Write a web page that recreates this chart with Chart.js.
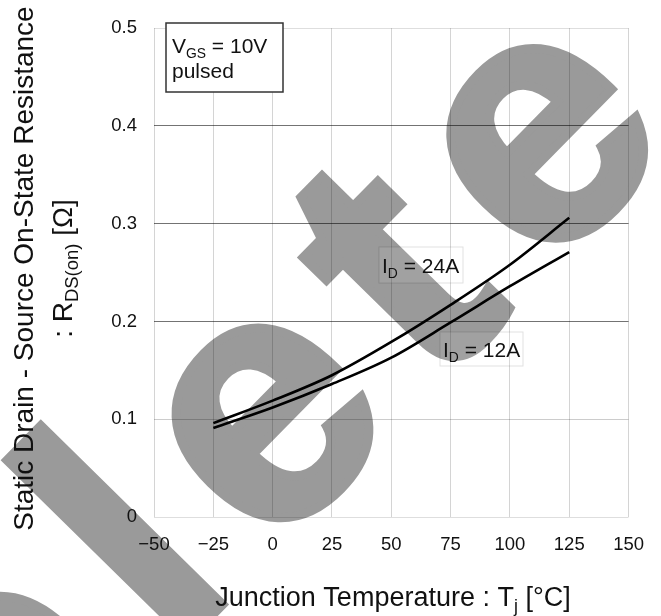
<!DOCTYPE html>
<html>
<head>
<meta charset="utf-8">
<script src="https://cdn.jsdelivr.net/npm/chart.js@4.4.0/dist/chart.umd.min.js"></script>
<style>
  html, body { margin: 0; padding: 0; background: #fff; }
  #wrap { width: 661px; height: 616px; position: relative; }
</style>
</head>
<body>
<div id="wrap"><canvas id="rdsChart"></canvas></div>
<script>
// Junction temperature (deg C) where the curves were read
const temps = [-25, 0, 25, 50, 75, 100, 125];
// R_DS(on) in ohm
const rds24A = [0.096, 0.119, 0.145, 0.179, 0.217, 0.258, 0.306];
const rds12A = [0.091, 0.112, 0.136, 0.163, 0.199, 0.236, 0.271];
const xTicks = [-50, -25, 0, 25, 50, 75, 100, 125, 150];
const yTicks = [0, 0.1, 0.2, 0.3, 0.4, 0.5];

const FONT = '"Liberation Sans", Arial, sans-serif';

function fontStr(size) {
    return size + 'px ' + FONT;
}

// draw text made of [text, isSubscript] pieces
function drawRich(ctx, parts, x, y, size, align) {
    const widths = parts.map(function(p) {
        ctx.font = fontStr(p[1] ? size * 0.66 : size);
        return ctx.measureText(p[0]).width;
    });
    const total = widths.reduce(function(a, b) { return a + b; }, 0);
    let cx = align === 'center' ? x - total / 2 : x;
    ctx.textAlign = 'left';
    ctx.textBaseline = 'alphabetic';
    parts.forEach(function(p, i) {
        ctx.font = fontStr(p[1] ? size * 0.66 : size);
        ctx.fillText(p[0], cx, p[1] ? y + size * 0.22 : y);
        cx += widths[i];
    });
    return total;
}

// big grey "Obsolete" stamp behind the grid
const watermark = {
    id: 'watermark',
    beforeDraw: function(chart) {
        const ctx = chart.ctx;
        const size = 352;
        ctx.save();
        ctx.font = 'bold ' + size + 'px ' + FONT;
        ctx.fillStyle = '#9a9a9a';
        ctx.strokeStyle = '#9a9a9a';
        ctx.lineWidth = 9;
        ctx.lineJoin = 'miter';
        ctx.translate(546, 145);
        ctx.rotate(-45.5 * Math.PI / 180);
        const word = 'Obsolete';
        const wE = ctx.measureText('e').width, wT = ctx.measureText('t').width;
        const gap = (392 - wE - wT) / 2;
        const pos = [];
        let x = 0;
        for (const ch of word) {
            pos.push(x);
            x += ctx.measureText(ch).width + gap;
        }
        const off = -(pos[pos.length - 1] + wE / 2);
        ctx.textBaseline = 'alphabetic';
        for (let i = 0; i < word.length; i++) {
            ctx.fillText(word[i], pos[i] + off, 0.26 * size);
            ctx.strokeText(word[i], pos[i] + off, 0.26 * size);
        }
        ctx.restore();
    }
};

const annotations = {
    id: 'annotations',
    afterDraw: function(chart) {
        const ctx = chart.ctx;
        const ys = chart.scales.y;
        ctx.save();

        // condition box
        ctx.fillStyle = '#fff';
        ctx.fillRect(166, 23, 117, 69);
        ctx.strokeStyle = '#333';
        ctx.lineWidth = 1.5;
        ctx.strokeRect(166, 23, 117, 69);
        ctx.fillStyle = '#111';
        drawRich(ctx, [['V', false], ['GS', true], [' = 10V', false]], 172, 53, 21, 'left');
        drawRich(ctx, [['pulsed', false]], 172, 78, 21, 'left');

        // curve labels
        ctx.fillStyle = 'rgba(255,255,255,0.08)';
        ctx.strokeStyle = 'rgba(0,0,0,0.12)';
        ctx.lineWidth = 1;
        ctx.fillRect(379, 247, 84, 36);
        ctx.strokeRect(379, 247, 84, 36);
        ctx.fillRect(440, 332, 83, 34);
        ctx.strokeRect(440, 332, 83, 34);
        ctx.fillStyle = '#111';
        drawRich(ctx, [['I', false], ['D', true], [' = 24A', false]], 382, 273, 21, 'left');
        drawRich(ctx, [['I', false], ['D', true], [' = 12A', false]], 443, 357, 21, 'left');

        // axis titles
        drawRich(ctx, [['Junction Temperature : T', false], ['j', true], [' [°C]', false]], 393, 606, 27, 'center');
        const midY = (ys.top + ys.bottom) / 2 - 4;
        ctx.save();
        ctx.translate(33, midY);
        ctx.rotate(-Math.PI / 2);
        drawRich(ctx, [['Static Drain - Source On-State Resistance', false]], 0, 0, 28, 'center');
        ctx.restore();
        ctx.save();
        ctx.translate(72, midY);
        ctx.rotate(-Math.PI / 2);
        drawRich(ctx, [[': R', false], ['DS(on)', true], [' [Ω]', false]], 0, 0, 28, 'center');
        ctx.restore();
        ctx.restore();
    }
};

function toPoints(ys) {
    return temps.map(function(t, i) { return { x: t, y: ys[i] }; });
}

const ctx = document.getElementById('rdsChart').getContext('2d');
new Chart(ctx, {
    type: 'line',
    data: {
        datasets: [
            {
                label: 'ID = 24A',
                data: toPoints(rds24A),
                borderColor: '#000',
                borderWidth: 2.6,
                pointRadius: 0,
                cubicInterpolationMode: 'monotone',
                fill: false
            },
            {
                label: 'ID = 12A',
                data: toPoints(rds12A),
                borderColor: '#000',
                borderWidth: 2.6,
                pointRadius: 0,
                cubicInterpolationMode: 'monotone',
                fill: false
            }
        ]
    },
    options: {
        responsive: true,
        maintainAspectRatio: false,
        animation: false,
        layout: { padding: { top: 11, right: 30, left: 0, bottom: 0 } },
        plugins: {
            legend: { display: false },
            tooltip: { enabled: false }
        },
        scales: {
            x: {
                type: 'linear',
                min: -50,
                max: 150,
                afterBuildTicks: function(s) { s.ticks = xTicks.map(function(v) { return { value: v }; }); },
                afterFit: function(s) { s.height = 99; },
                grid: { color: 'rgba(0,0,0,0.17)', drawTicks: false },
                border: { display: false },
                ticks: {
                    padding: 17,
                    color: '#111',
                    font: { family: FONT, size: 18.5 },
                    callback: function(v) { return v < 0 ? '\u2212' + Math.abs(v) : String(v); }
                }
            },
            y: {
                min: 0,
                max: 0.5,
                afterBuildTicks: function(s) { s.ticks = yTicks.map(function(v) { return { value: v }; }); },
                afterFit: function(s) { s.width = 154; },
                grid: {
                    drawTicks: false,
                    color: function(c) {
                        const v = Math.round(c.tick.value * 10);
                        if (v === 0 || v === 5) return 'rgba(0,0,0,0.13)';
                        if (v === 1) return 'rgba(0,0,0,0.2)';
                        return 'rgba(0,0,0,0.55)';
                    }
                },
                border: { display: false },
                ticks: {
                    padding: 17,
                    color: '#111',
                    font: { family: FONT, size: 18.5 },
                    callback: function(v) { return v === 0 ? '0' : v.toFixed(1); }
                }
            }
        }
    },
    plugins: [watermark, annotations]
});
</script>
</body>
</html>
